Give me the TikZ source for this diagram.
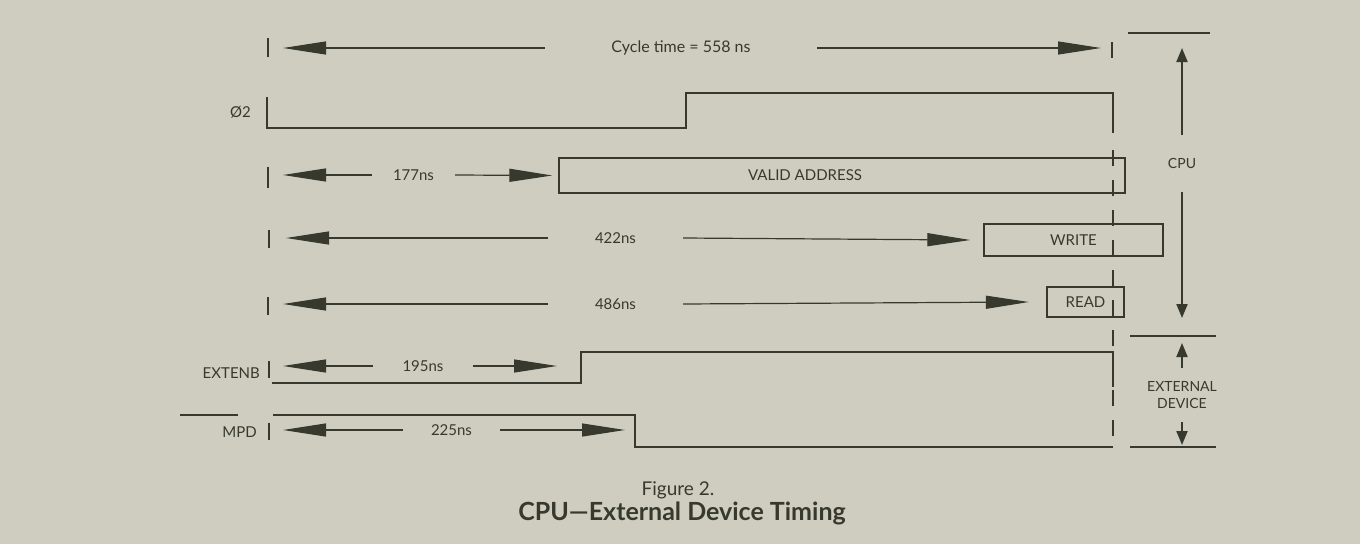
\documentclass[tikz,border=0pt]{standalone}
\usepackage{fontspec}
\setmainfont{Lato}
\usetikzlibrary{arrows.meta}
\definecolor{paper}{RGB}{207,205,192}
\definecolor{ink}{RGB}{55,57,47}

\begin{document}
\begin{tikzpicture}[x=1pt,y=-1pt,
  every node/.style={text=ink, font=\fontsize{15}{17}\selectfont},
  sig/.style={draw=ink, line width=1.4pt},
  tick/.style={draw=ink, line width=1.8pt},
  dimarr/.style={draw=ink, line width=1.2pt, -{Triangle[length=43pt,width=13pt]}},
  gap/.style={inner sep=0pt, minimum height=12pt},
  sigbox/.style={draw=ink, line width=1.4pt, inner sep=0pt},
  vtarr/.style={draw=ink, line width=2pt, -{Triangle[length=14pt,width=11pt]}}]
 \fill[paper] (0,0) rectangle (1360,544);

% cycle time
\draw[tick] (268,38)--(268,57);
\draw[tick] (1112,42)--(1112,58);
\node[gap, minimum width=272pt, font=\fontsize{16}{18}\selectfont] (cyc) at (681,48) {Cycle time = 558 ns};
\coordinate (cycL) at (283,48);
\coordinate (cycR) at (1101,48);
\draw[dimarr] (cyc.west) -- (cycL);
\draw[dimarr] (cyc.east) -- (cycR);

% phi 2
\node[anchor=east, inner sep=0pt] (phi) at (251,112) {Ø2};
\draw[sig] (267,97) -- (267,128) -- (686,128) -- (686,93) -- (1113,93) -- (1113,133);
\draw[draw=ink, line width=1.4pt, dash pattern=on 16pt off 14pt] (1113,150) -- (1113,447);

% valid address
\draw[tick] (268,167)--(268,188);
\node[sigbox, minimum width=566pt, minimum height=35pt] (vabox) at (842,175.5) {};
\node (va) at (805,175) {VALID ADDRESS};
\node[gap, minimum width=83pt] (t177) at (413.5,175) {177ns};
\coordinate (l177) at (283,175);
\draw[dimarr] (t177.west) -- (l177);
\draw[dimarr] (t177.east) -- ([xshift=-6pt]vabox.west);

% write
\draw[tick] (269,230)--(269,248);
\node[sigbox, minimum width=179pt, minimum height=32pt] (wr) at (1073.5,240) {WRITE};
\node[gap, minimum width=135pt] (t422) at (615.5,238) {422ns};
\coordinate (l422) at (286,238);
\draw[dimarr] (t422.west) -- (l422);
\draw[dimarr] (t422.east) -- ([xshift=-13pt]wr.west);

% read
\draw[tick] (268,297)--(268,315);
\node[sigbox, line width=2.2pt, minimum width=77pt, minimum height=30pt] (rd) at (1085.5,302) {READ};
\node[gap, minimum width=135pt] (t486) at (615.5,304) {486ns};
\coordinate (l486) at (283,304);
\draw[dimarr] (t486.west) -- (l486);
\draw[dimarr] (t486.east) -- ([xshift=-17pt]rd.west);

% extenb
\node[anchor=east, inner sep=0pt] (ext) at (260,373) {EXTENB};
\draw[tick] (269,361)--(269,378);
\draw[sig] (272,383) -- (581,383) -- (581,352) -- (1113,352) -- (1113,387);
\node[gap, minimum width=100pt] (t195) at (423,366) {195ns};
\coordinate (l195) at (283,366);
\coordinate (r195) at (557,366);
\draw[dimarr] (t195.west) -- (l195);
\draw[dimarr] (t195.east) -- (r195);

% mpd
\draw[sig] (180,415) -- (238,415);
\node[anchor=east, inner sep=0pt] (mpd) at (257,432) {MPD};
\draw[tick] (269,423)--(269,440);
\draw[sig] (273,415) -- (635,415) -- (635,447) -- (1113,447);
\node[gap, minimum width=97pt] (t225) at (451.5,430) {225ns};
\coordinate (l225) at (283,430);
\coordinate (r225) at (625,430);
\draw[dimarr] (t225.west) -- (l225);
\draw[dimarr] (t225.east) -- (r225);

% cpu / external device
\draw[sig] (1128,33) -- (1210,33);
\node[gap, minimum height=57pt, font=\fontsize{14}{16}\selectfont] (cpu) at (1182,163.5) {CPU};
\coordinate (cpuT) at (1182,48);
\coordinate (cpuB) at (1182,318);
\draw[vtarr] (cpu.north) -- (cpuT);
\draw[vtarr] (cpu.south) -- (cpuB);
\draw[sig] (1130,336) -- (1216,336);
\node[gap, align=center, minimum height=54pt, font=\fontsize{14}{17}\selectfont] (dev) at (1182,395) {EXTERNAL\\DEVICE};
\coordinate (devT) at (1182,343);
\coordinate (devB) at (1182,445);
\draw[vtarr] (dev.north) -- (devT);
\draw[vtarr] (dev.south) -- (devB);
\draw[sig] (1130,447) -- (1216,447);

% caption
\node[font=\fontsize{19}{22}\selectfont] (fig) at (678,490) {Figure 2.};
\node[font=\bfseries\fontsize{25}{28}\selectfont] (ttl) at (682,513) {CPU—External Device Timing};
\end{tikzpicture}
\end{document}
